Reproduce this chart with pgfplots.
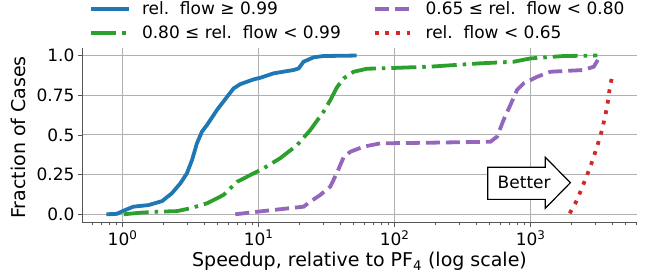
\documentclass[border=0pt]{standalone}
\usepackage{fontspec}
\setmainfont{DejaVu Sans}
\usepackage{pgfplots}
\pgfplotsset{compat=1.18}
\definecolor{cblue}{HTML}{1F77B4}
\definecolor{cgreen}{HTML}{2CA02C}
\definecolor{cpurple}{HTML}{9467BD}
\definecolor{cred}{HTML}{D62728}
\definecolor{gridgray}{HTML}{B0B0B0}
\definecolor{spine}{HTML}{555555}
\begin{document}
\begin{tikzpicture}
\begin{semilogxaxis}[
  scale only axis,
  width=555pt, height=175.1pt,
  xmin=0.503, xmax=6050,
  ymin=-0.053, ymax=1.05,
  axis x line*=bottom, axis y line*=left,
  axis line style={spine, line width=0.9pt},
  every tick/.style={spine, line width=0.8pt},
  tick align=outside,
  major tick length=4pt, minor tick length=2.5pt,
  xtick={1,10,100,1000},
  xticklabels={10\textsuperscript{0},10\textsuperscript{1},10\textsuperscript{2},10\textsuperscript{3}},
  minor xtick={0.6,0.7,0.8,0.9,2,3,4,5,6,7,8,9,20,30,40,50,60,70,80,90,200,300,400,500,600,700,800,900,2000,3000,4000,5000,6000},
  ytick={0,0.25,0.5,0.75,1},
  yticklabels={0.0,0.25,0.5,0.75,1.0},
  tick label style={font=\fontsize{17}{20}\selectfont, text=black},
  grid=major,
  major grid style={gridgray, line width=0.9pt},
  xlabel={Speedup, relative to PF\textsubscript{4} (log scale)},
  ylabel={Fraction of Cases},
  xlabel style={font=\fontsize{19}{22}\selectfont, at={(axis description cs:0.5,-0.2513)}, anchor=base},
  ylabel style={font=\fontsize{19}{22}\selectfont, at={(axis description cs:-0.1009,0.487)}, anchor=base},
  legend columns=2,
  legend style={draw=none, fill=none, at={(axis description cs:0.497,1.152)}, anchor=center,
    font=\fontsize{17}{20}\selectfont,
    /tikz/every odd column/.append style={column sep=9pt},
    /tikz/every even column/.append style={column sep=30pt},
    row sep=5pt},
  legend cell align=left,
  legend image code/.code={\draw[#1] (0pt,0pt) -- (38pt,0pt);},
  every axis plot/.append style={line width=3.8pt, line cap=butt},
]
\addplot[cblue, solid] coordinates {(0.76,0) (0.91,0.003) (1.0,0.02) (1.2,0.048) (1.55,0.058) (1.95,0.083) (2.3,0.132) (2.66,0.195) (2.97,0.258) (3.24,0.342) (3.52,0.447) (3.83,0.52) (4.17,0.562) (4.94,0.657) (5.86,0.74) (6.55,0.793) (7.34,0.82) (9.2,0.85) (10.3,0.86) (12.9,0.888) (18.1,0.909) (19.7,0.919) (21.4,0.961) (25.4,0.989) (30,0.997) (52.6,1.0)};
\addlegendentry{rel.\ \ flow ≥ 0.99}
\addplot[cpurple, dash pattern=on 14pt off 6pt] coordinates {(6.74,0) (9.73,0.016) (21.4,0.048) (24,0.08) (28.4,0.122) (33.7,0.175) (37.7,0.262) (42.2,0.36) (47.2,0.394) (59.2,0.426) (78.5,0.447) (183,0.451) (506,0.457) (566,0.489) (632,0.594) (709,0.688) (794,0.783) (889,0.825) (1114,0.866) (1396,0.898) (2455,0.909) (2912,0.93) (3165,0.982)};
\addlegendentry{0.65 ≤ rel.\ \ flow < 0.80}
\addplot[cgreen, dash pattern=on 25pt off 6pt on 3.5pt off 6pt] coordinates {(1.02,0) (1.35,0.01) (1.79,0.016) (2.51,0.02) (3.15,0.038) (4.17,0.069) (5.53,0.122) (6.94,0.205) (8.69,0.247) (10.9,0.29) (14.4,0.353) (19.2,0.436) (24,0.531) (30,0.646) (33.7,0.72) (37.7,0.8) (42.2,0.856) (50,0.898) (62.7,0.917) (78.5,0.919) (183,0.93) (427,0.951) (750,0.961) (1000,0.982) (1750,0.997) (3090,1.0)};
\addlegendentry{0.80 ≤ rel.\ \ flow < 0.99}
\addplot[cred, dash pattern=on 3.8pt off 6.8pt] coordinates {(1936,0.006) (2195,0.09) (2455,0.195) (2748,0.3) (3078,0.426) (3350,0.531) (3648,0.678) (3813,0.793) (3963,0.866)};
\addlegendentry{rel.\ \ flow < 0.65}
\draw[black, line width=1.2pt, fill=white, line join=miter] (axis cs:483,0.296) -- (axis cs:1282,0.296) -- (axis cs:1282,0.359) -- (axis cs:1959,0.199) -- (axis cs:1282,0.038) -- (axis cs:1282,0.094) -- (axis cs:483,0.094) -- cycle;
\node[font=\fontsize{17}{20}\selectfont, anchor=center] at (axis cs:896,0.199) {Better};
\end{semilogxaxis}
\pgfresetboundingbox
\path (-82pt,-54.3pt) rectangle (570pt,222.7pt);
\end{tikzpicture}
\end{document}
